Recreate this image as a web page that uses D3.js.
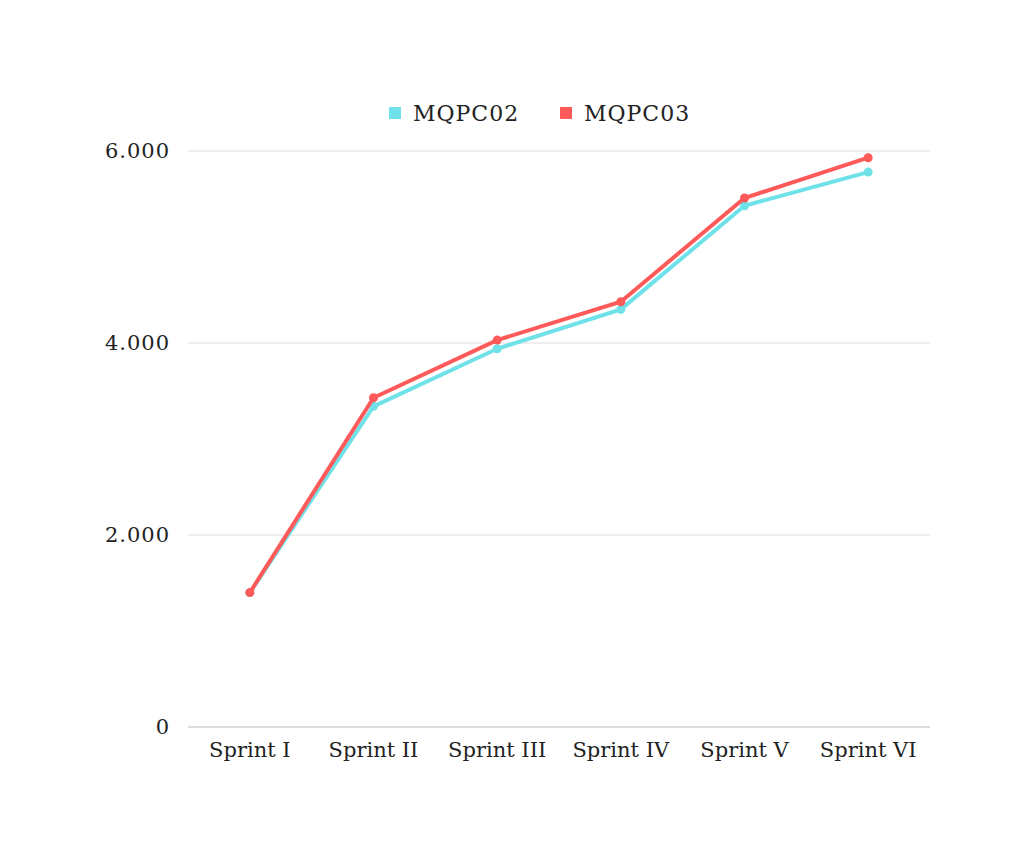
<!DOCTYPE html>
<html>
<head>
<meta charset="utf-8">
<script src="https://cdn.jsdelivr.net/npm/d3@7"></script>
<style>
  body { margin: 0; background: #fff; }
  text { font-family: "DejaVu Serif", "Liberation Serif", serif; fill: #222; }
</style>
</head>
<body>
<div id="chart"></div>
<script>
var sprints = ["Sprint I", "Sprint II", "Sprint III", "Sprint IV", "Sprint V", "Sprint VI"];
var mqpc02 = [1400, 3340, 3940, 4350, 5430, 5780];
var mqpc03 = [1400, 3430, 4030, 4430, 5510, 5930];
var yTicks = [0, 2000, 4000, 6000];
var seriesNames = ["MQPC02", "MQPC03"];
var colors = ["#6ee2e8", "#ff5a5a"];

var margin = { top: 151, right: 101, bottom: 139, left: 188 },
    width = 1031 - margin.left - margin.right,
    height = 866 - margin.top - margin.bottom;

var svg = d3.select("#chart").append("svg")
    .attr("width", 1031).attr("height", 866);
var g = svg.append("g")
    .attr("transform", "translate(" + margin.left + "," + margin.top + ")");

var x = d3.scalePoint().domain(sprints).range([0, width]).padding(0.5);
var y = d3.scaleLinear().domain([0, 6000]).range([height, 0]);

g.selectAll(".grid").data(yTicks).enter().append("line")
    .attr("x1", 0).attr("x2", width)
    .attr("y1", d => y(d)).attr("y2", d => y(d))
    .attr("stroke", d => d === 0 ? "#bbb" : "#ddd").attr("stroke-width", 1);

g.selectAll(".ytick").data(yTicks).enter().append("text")
    .attr("x", -18).attr("y", d => y(d)).attr("dy", "0.35em")
    .attr("text-anchor", "end").style("font-size", "21px").style("letter-spacing", "1px")
    .text(d => d === 0 ? "0" : d3.format(",")(d).replace(",", "."));

g.selectAll(".xtick").data(sprints).enter().append("text")
    .attr("x", d => x(d)).attr("y", height + 30)
    .attr("text-anchor", "middle").style("font-size", "21px")
    .text(d => d);

var line = d3.line().x((d, i) => x(sprints[i])).y(d => y(d));
[mqpc02, mqpc03].forEach(function (s, k) {
    g.append("path").datum(s).attr("d", line)
        .attr("fill", "none").attr("stroke", colors[k]).attr("stroke-width", 4);
    g.selectAll(".pt" + k).data(s).enter().append("circle")
        .attr("cx", (d, i) => x(sprints[i])).attr("cy", d => y(d))
        .attr("r", 4.5).attr("fill", colors[k]);
});

var legend = svg.append("g").attr("transform", "translate(389,113)");
var lx = [0, 171];
seriesNames.forEach(function (n, k) {
    legend.append("rect").attr("x", lx[k]).attr("y", -6).attr("width", 12).attr("height", 12)
        .attr("fill", colors[k]);
    legend.append("text").attr("x", lx[k] + 24).attr("y", 0).attr("dy", "0.35em")
        .style("font-size", "22px").style("letter-spacing", "1px").text(n);
});
</script>
</body>
</html>
